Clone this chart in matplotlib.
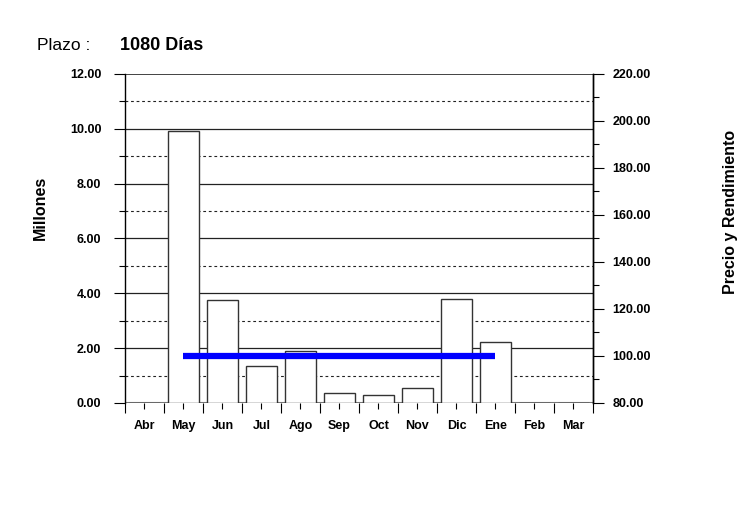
import matplotlib.pyplot as plt
import numpy as np

plt.rcParams['font.family'] = ['Liberation Sans', 'DejaVu Sans']

meses = ["Abr", "May", "Jun", "Jul", "Ago", "Sep", "Oct", "Nov", "Dic", "Ene", "Feb", "Mar"]
montos = [0.0, 9.93, 3.75, 1.36, 1.89, 0.35, 0.28, 0.55, 3.80, 2.22, 0.0, 0.0]
precio = [np.nan, 100, 100, 100, 100, 100, 100, 100, 100, 100, np.nan, np.nan]

fig = plt.figure(figsize=(7.43, 5.31), dpi=100)
ax = fig.add_axes([0.1682, 0.2411, 0.6299, 0.6196])

x = np.arange(len(meses)) + 0.5

# grid lines: solid on majors, dashed on minors
for v in range(1, 12):
    if v % 2 == 0:
        ax.axhline(v, color="#222222", lw=0.9, zorder=1)
    else:
        ax.axhline(v, color="#222222", lw=0.8, ls=(0, (2.5, 2.5)), zorder=1)
ax.axhline(0, color="#777777", lw=1.5, zorder=1)

ax.bar(x, montos, width=0.8, color="white", edgecolor="#333333", lw=1.0, zorder=2)

ax.set_xlim(0, 12)
ax.set_ylim(0, 12)
ax.set_yticks(np.arange(0, 13, 2))
ax.set_yticks(np.arange(1, 12, 2), minor=True)
ax.set_yticklabels(["%.2f" % v for v in np.arange(0, 13, 2)], fontsize=9, fontweight="bold")
ax.set_xticks(np.arange(0, 13))
ax.set_xticklabels([])
ax.set_xticks(x, minor=True)
ax.set_xticklabels(meses, minor=True, fontsize=9, fontweight="bold")
ax.tick_params(axis="x", which="major", length=7, width=0.8, direction="out")
ax.tick_params(axis="x", which="minor", length=4, width=0.8, direction="out", pad=8)
ax.tick_params(axis="y", which="major", length=8, width=0.8, direction="out", pad=9)
ax.tick_params(axis="y", which="minor", length=4, width=0.8, direction="out")
ax.spines["top"].set_visible(False)
ax.spines["bottom"].set_visible(False)
ax.spines["left"].set_linewidth(1.0)
ax.spines["right"].set_linewidth(1.0)
ax.axhline(12, color="#222222", lw=1.2, zorder=1)

ax2 = ax.twinx()
ax2.plot(x, precio, color="#0000FF", lw=4.5, solid_capstyle="butt", zorder=3)
ax2.set_ylim(80, 220)
ax2.set_yticks(np.arange(80, 221, 20))
ax2.set_yticks(np.arange(90, 220, 20), minor=True)
ax2.set_yticklabels(["%.2f" % v for v in np.arange(80, 221, 20)], fontsize=9, fontweight="bold")
ax2.tick_params(axis="y", which="major", length=8, width=0.8, direction="out", pad=6)
ax2.tick_params(axis="y", which="minor", length=4, width=0.8, direction="out")
for s in ["top", "bottom", "left"]:
    ax2.spines[s].set_visible(False)
ax2.spines["right"].set_linewidth(1.0)

fig.text(40 / 743, 1 - 208 / 531, "Millones", fontsize=11.5, fontweight="bold",
         rotation=90, ha="center", va="center")
fig.text(731 / 743, 1 - 212 / 531, "Precio y Rendimiento", fontsize=11.5, fontweight="bold",
         rotation=90, ha="center", va="center")

fig.text(0.05, 0.915, "Plazo :", fontsize=12.5, va="center")
fig.text(0.161, 0.915, "1080 Días", fontsize=13, fontweight="bold", va="center")

fig.savefig("out.png", dpi=100)
